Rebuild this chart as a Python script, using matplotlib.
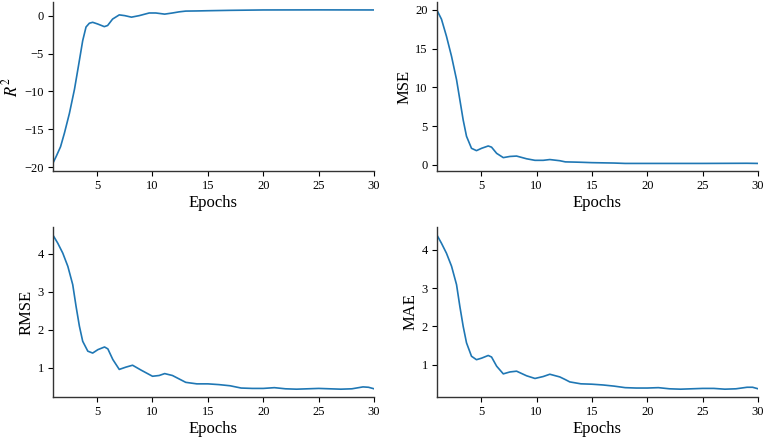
import numpy as np
import matplotlib
matplotlib.use("Agg")
import matplotlib.pyplot as plt

plt.rcParams['font.family'] = ['Liberation Serif', 'DejaVu Serif']
plt.rcParams['mathtext.fontset'] = 'stix'

### values (epoch, metric)
r2_ep  = [1, 1.3, 1.7, 2.05, 2.5, 2.96, 3.35, 3.7, 4.0, 4.3, 4.6, 5.05, 5.65, 5.95, 6.4, 7.0, 7.5, 8.1,
          8.8, 9.7, 10.3, 11.1, 11.8, 12.4, 13, 14, 15, 17, 20, 25, 30]
r2_val = [-19.5, -18.6, -17.3, -15.5, -12.9, -9.7, -6.35, -3.3, -1.5, -1.0, -0.88, -1.1, -1.45, -1.3,
          -0.45, 0.1, 0.0, -0.2, 0.0, 0.35, 0.35, 0.2, 0.35, 0.5, 0.6, 0.62, 0.65, 0.7, 0.75, 0.76, 0.75]

mse_ep  = [1, 1.42, 1.87, 2.33, 2.78, 3.08, 3.38, 3.68, 4.13, 4.58, 5.04, 5.64, 5.94, 6.4, 7.0, 7.6, 8.2,
           9.1, 9.86, 10.6, 11.2, 12.1, 12.6, 13.5, 14, 15, 17, 18, 20, 25, 29, 30]
mse_val = [20.0, 18.8, 16.6, 14.0, 11.0, 8.4, 5.8, 3.7, 2.15, 1.85, 2.15, 2.45, 2.3, 1.5, 0.95, 1.1, 1.15,
           0.8, 0.6, 0.6, 0.7, 0.55, 0.4, 0.37, 0.35, 0.3, 0.25, 0.2, 0.2, 0.2, 0.22, 0.2]

rmse_ep  = [1, 1.45, 1.9, 2.36, 2.8, 3.1, 3.4, 3.7, 4.16, 4.6, 5.07, 5.67, 5.97, 6.42, 7.0, 7.6, 8.2,
            8.98, 10.0, 10.6, 11.1, 11.8, 12.4, 13, 14, 15, 16, 17, 18, 19, 20, 21, 22, 23, 24, 25, 26,
            27, 28, 29, 29.5, 30]
rmse_val = [4.5, 4.28, 4.02, 3.67, 3.19, 2.62, 2.1, 1.7, 1.44, 1.39, 1.48, 1.55, 1.5, 1.22, 0.96, 1.02,
            1.07, 0.94, 0.78, 0.8, 0.85, 0.8, 0.71, 0.62, 0.58, 0.58, 0.56, 0.53, 0.47, 0.46, 0.46, 0.48,
            0.45, 0.44, 0.45, 0.46, 0.45, 0.44, 0.45, 0.5, 0.49, 0.45]

mae_ep  = [1, 1.42, 1.87, 2.33, 2.78, 3.08, 3.38, 3.68, 4.13, 4.58, 5.04, 5.64, 5.94, 6.4, 7.0, 7.6, 8.2,
           9.1, 9.86, 10.6, 11.2, 12.1, 12.6, 13, 14, 15, 16, 17, 18, 19, 20, 21, 22, 23, 24, 25, 26,
           27, 28, 29, 29.5, 30]
mae_val = [4.39, 4.17, 3.91, 3.57, 3.09, 2.52, 2.0, 1.57, 1.22, 1.13, 1.17, 1.24, 1.2, 0.96, 0.76, 0.81,
           0.83, 0.71, 0.64, 0.69, 0.75, 0.68, 0.61, 0.55, 0.5, 0.49, 0.47, 0.44, 0.4, 0.39, 0.39, 0.4,
           0.37, 0.36, 0.37, 0.38, 0.38, 0.36, 0.37, 0.41, 0.41, 0.37]

panels = [(r2_ep, r2_val, r"$R^2$"), (mse_ep, mse_val, "MSE"),
          (rmse_ep, rmse_val, "RMSE"), (mae_ep, mae_val, "MAE")]

fig = plt.figure(figsize=(7.65, 4.41), dpi=100)
# axes boxes [left, bottom, width, height] in figure fraction
boxes = [[0.069, 0.612, 0.420, 0.383], [0.571, 0.612, 0.420, 0.383],
         [0.069, 0.100, 0.420, 0.385], [0.571, 0.100, 0.420, 0.385]]

for (ep, val, lab), box in zip(panels, boxes):
    ax = fig.add_axes(box)
    ax.plot(ep, val, color='#1f77b4', lw=1.2)
    ax.set_xlim(1, 30)
    ax.set_xticks([5, 10, 15, 20, 25, 30])
    ax.set_xlabel("Epochs", fontsize=12, labelpad=2)
    ax.set_ylabel(lab, fontsize=12, labelpad=2)
    ax.tick_params(labelsize=9, length=3.5, width=0.8, pad=3)
    ax.spines['top'].set_visible(False)
    ax.spines['right'].set_visible(False)
    for s in ('left', 'bottom'):
        ax.spines[s].set_linewidth(1.0)
        ax.spines[s].set_color('#333333')

fig.savefig("out.png", dpi=100)
